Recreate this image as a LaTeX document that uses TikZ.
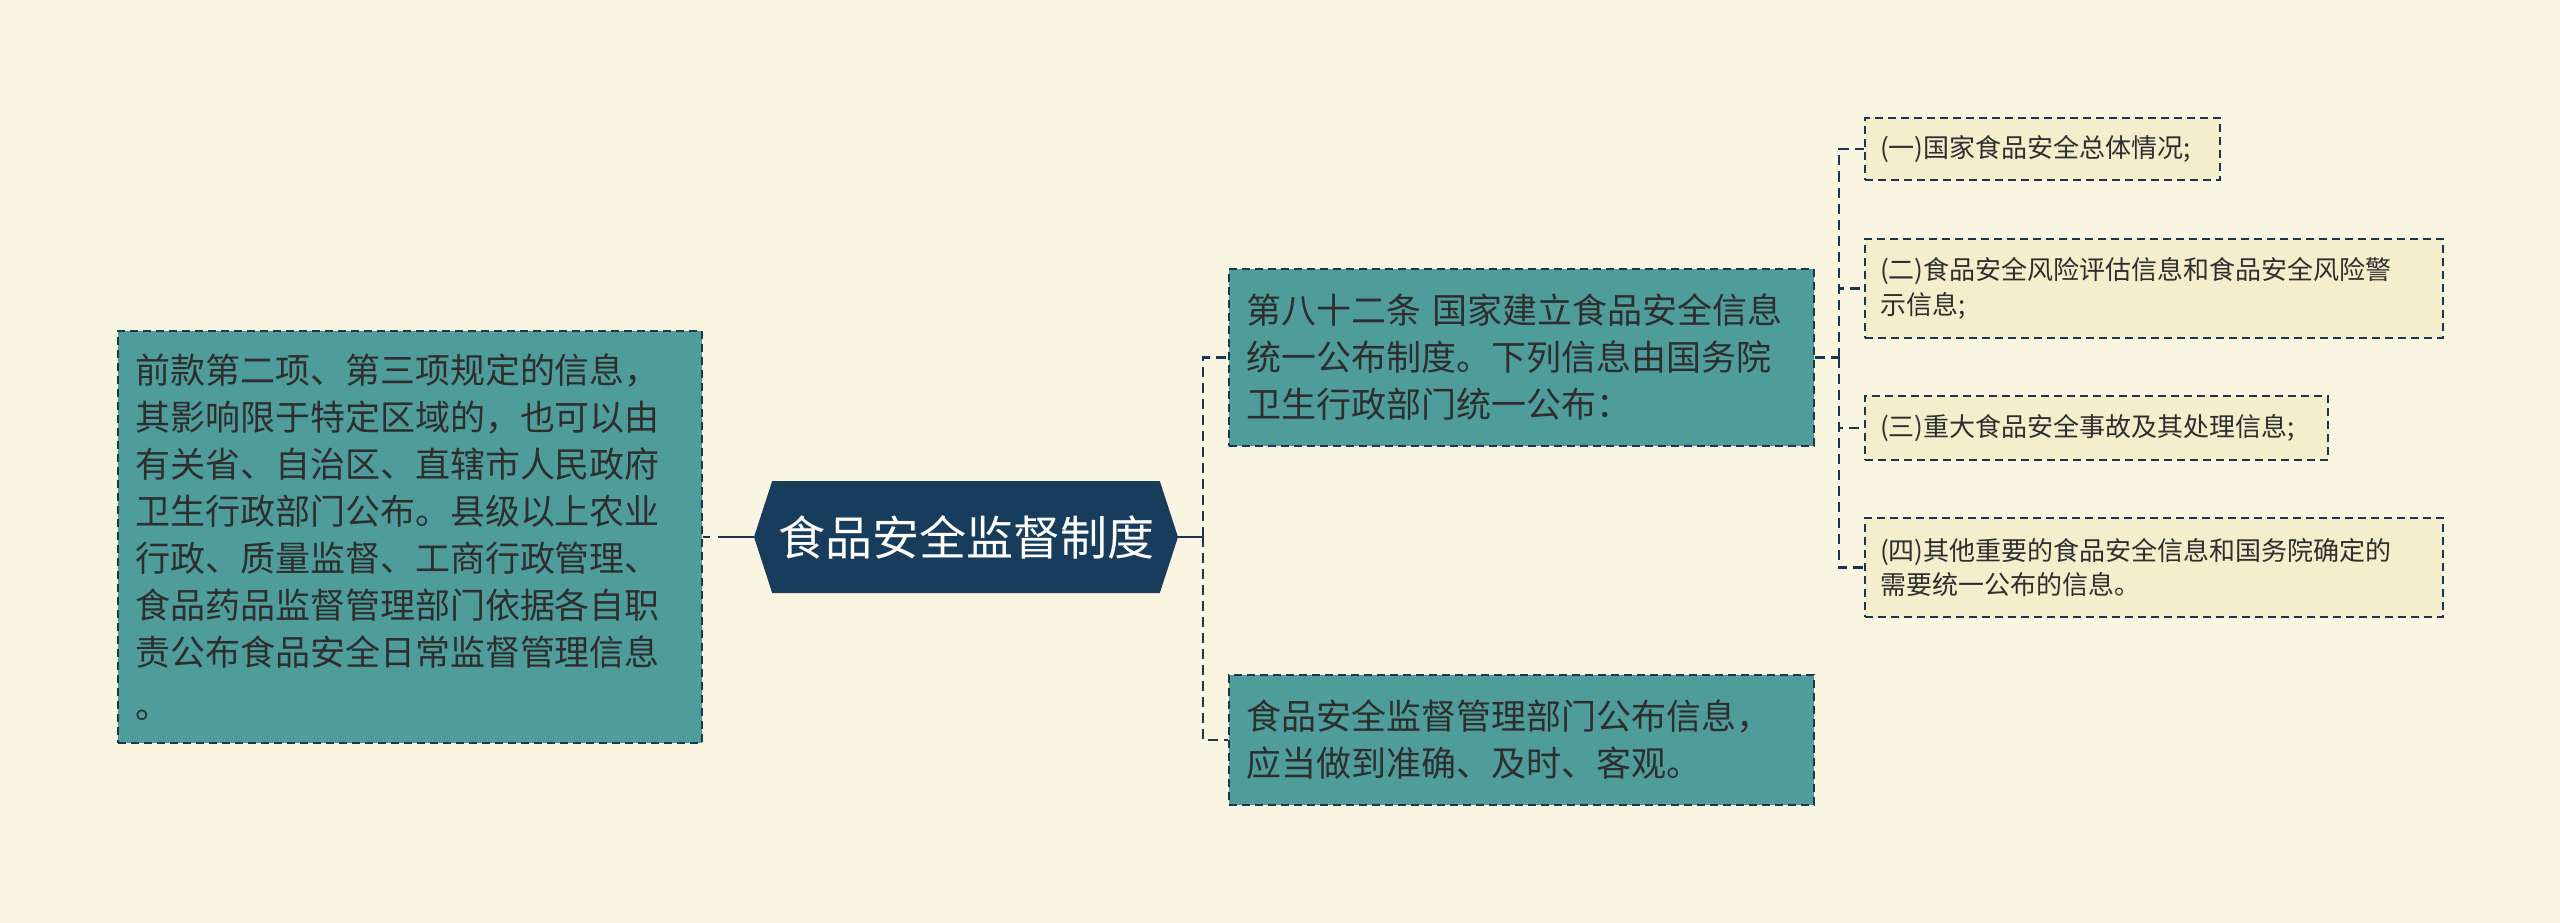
\documentclass[tikz,border=0pt]{standalone}
\usepackage{fontspec}
\setmainfont{Noto Sans CJK SC}
\usetikzlibrary{positioning,shapes.symbols}
\definecolor{bgcream}{HTML}{FAF5E1}
\definecolor{navy}{HTML}{1B3652}
\definecolor{rootblue}{HTML}{173C5C}
\definecolor{boxteal}{HTML}{4F9D9B}
\definecolor{leafcream}{HTML}{F5EECD}
\definecolor{inktext}{HTML}{2E2E2E}

\begin{document}
\begin{tikzpicture}[x=1pt,y=-1pt,
		link/.style={draw=navy,line width=2.8pt,dash pattern=on 10pt off 6pt},
		solidlink/.style={draw=navy,line width=2.8pt},
		rootbox/.style={signal,signal to=west and east,signal pointer angle=144,
			fill=rootblue,text=white,minimum width=424pt,minimum height=112pt,
			inner sep=0pt,font=\fontsize{47pt}{56pt}\selectfont},
		topic/.style={draw=navy,line width=2.4pt,dash pattern=on 8pt off 5pt,
			fill=boxteal,text=inktext,align=left,inner xsep=17pt,inner ysep=0pt,
			font=\fontsize{35pt}{47pt}\selectfont},
		leaf/.style={draw=navy,line width=2.4pt,dash pattern=on 8pt off 5pt,
			fill=leafcream,text=inktext,align=left,inner xsep=15pt,inner ysep=0pt,
			font=\fontsize{26pt}{34.5pt}\selectfont}]
		\fill[bgcream] (0,0) rectangle (2560,923);
		\useasboundingbox (0,0) rectangle (2560,923);
		
		\node[rootbox] (root) at (966,537) {食品安全监督制度};
		\node[topic,text width=550pt,minimum height=412pt] (scope) at (410,537)
		{前款第二项、第三项规定的信息，\\其影响限于特定区域的，也可以由\\有关省、自治区、直辖市人民政府\\卫生行政部门公布。县级以上农业\\行政、质量监督、工商行政管理、\\食品药品监督管理部门依据各自职\\责公布食品安全日常监督管理信息\\[6pt]。};
		\node[topic,text width=551pt,minimum height=177pt] (art82) at (1521.5,357.5)
		{第八十二条 国家建立食品安全信息\\统一公布制度。下列信息由国务院\\卫生行政部门统一公布：};
		\node[topic,text width=551pt,minimum height=130pt] (duty) at (1521.5,740)
		{食品安全监督管理部门公布信息，\\应当做到准确、及时、客观。};
		\node[leaf,text width=325pt,minimum height=62pt] (item1) at (2042.5,149)
		{(一)国家食品安全总体情况;};
		\node[leaf,text width=548pt,minimum height=99pt] (item2) at (2154,288.5)
		{(二)食品安全风险评估信息和食品安全风险警\\示信息;};
		\node[leaf,text width=433pt,minimum height=64pt] (item3) at (2096.5,428)
		{(三)重大食品安全事故及其处理信息;};
		\node[leaf,text width=548pt,minimum height=99pt] (item4) at (2154,567.5)
		{(四)其他重要的食品安全信息和国务院确定的\\需要统一公布的信息。};
		
		% joints of the branches
		\coordinate (rootjoint) at (1203,537);
		\coordinate (artjoint) at (1839,357.5);
		
		\draw[solidlink,dash pattern=on 36pt off 8pt] (root.west) -- (scope.east);
		\draw[solidlink] (root.east) -- (rootjoint);
		\draw[link] (rootjoint) |- (art82.west);
		\draw[link] (rootjoint) |- (duty.west);
		\draw[link] (art82.east) -- (artjoint);
		\foreach \leafname in {item1,item2,item3,item4}
		\draw[link] (artjoint) |- (\leafname.west);
\end{tikzpicture}
\end{document}
